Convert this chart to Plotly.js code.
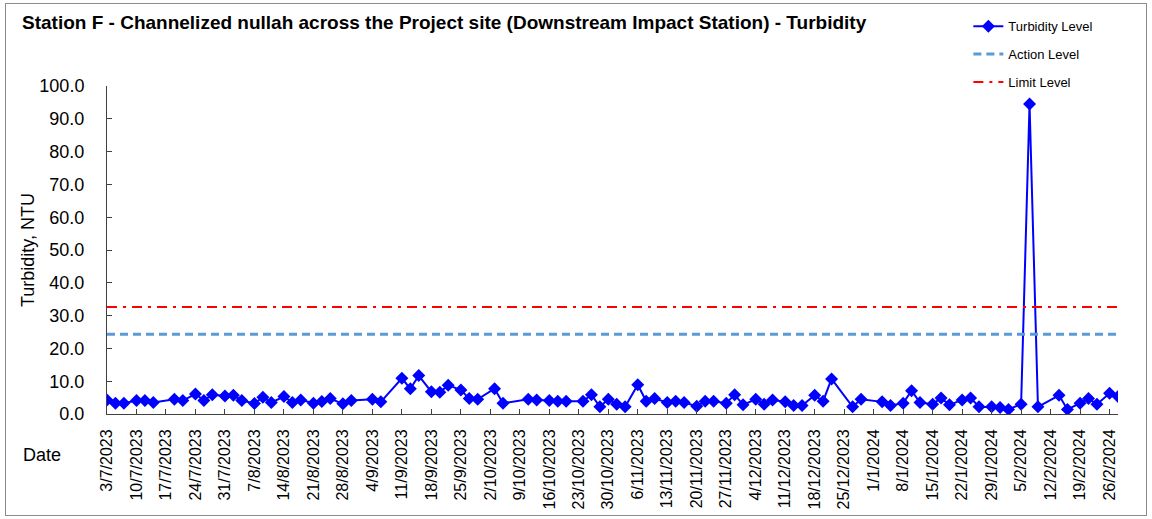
<!DOCTYPE html>
<html>
<head>
<meta charset="utf-8">
<script src="https://cdn.plot.ly/plotly-3.0.1.min.js"></script>
<style>
  html, body { margin: 0; padding: 0; background: #ffffff; }
  #wrap { position: relative; width: 1152px; height: 519px; }
  #chart { width: 1152px; height: 519px; }
  #frame { position: absolute; left: 5px; top: 3px; width: 1140px; height: 511px;
           border: 1px solid #8c8c8c; pointer-events: none; }
</style>
</head>
<body>
<div id="wrap">
  <div id="chart"></div>
  <div id="frame"></div>
</div>
<script>
const chartTitle = "Station F - Channelized nullah across the Project site (Downstream Impact Station) - Turbidity";
const yTitle = "Turbidity, NTU";
const xTitle = "Date";
const seriesNames = ["Turbidity Level", "Action Level", "Limit Level"];

const dates = [
  "2023-07-03","2023-07-05","2023-07-07","2023-07-10","2023-07-12","2023-07-14",
  "2023-07-19","2023-07-21","2023-07-24","2023-07-26","2023-07-28","2023-07-31",
  "2023-08-02","2023-08-04","2023-08-07","2023-08-09","2023-08-11","2023-08-14",
  "2023-08-16","2023-08-18","2023-08-21","2023-08-23","2023-08-25","2023-08-28",
  "2023-08-30","2023-09-04","2023-09-06","2023-09-11","2023-09-13","2023-09-15",
  "2023-09-18","2023-09-20","2023-09-22","2023-09-25","2023-09-27","2023-09-29",
  "2023-10-03","2023-10-05","2023-10-11","2023-10-13","2023-10-16","2023-10-18",
  "2023-10-20","2023-10-24","2023-10-26","2023-10-28","2023-10-30","2023-11-01",
  "2023-11-03","2023-11-06","2023-11-08","2023-11-10","2023-11-13","2023-11-15",
  "2023-11-17","2023-11-20","2023-11-22","2023-11-24","2023-11-27","2023-11-29",
  "2023-12-01","2023-12-04","2023-12-06","2023-12-08","2023-12-11","2023-12-13",
  "2023-12-15","2023-12-18","2023-12-20","2023-12-22","2023-12-27","2023-12-29",
  "2024-01-03","2024-01-05","2024-01-08","2024-01-10","2024-01-12","2024-01-15",
  "2024-01-17","2024-01-19","2024-01-22","2024-01-24","2024-01-26","2024-01-29",
  "2024-01-31","2024-02-02","2024-02-05","2024-02-07","2024-02-09","2024-02-14",
  "2024-02-16","2024-02-19","2024-02-21","2024-02-23","2024-02-26","2024-02-28"
];

const turbidity = [
  4.3, 3.3, 3.3, 4.1, 4.1, 3.5,
  4.5, 4.1, 6.1, 4.1, 5.9, 5.5,
  5.7, 4.1, 3.2, 5.1, 3.5, 5.3,
  3.5, 4.3, 3.3, 3.8, 4.7, 3.1,
  4.1, 4.5, 3.7, 10.9, 7.7, 11.7,
  6.8, 6.6, 8.8, 7.3, 4.7, 4.5,
  7.7, 3.3, 4.5, 4.3, 4.1, 3.9,
  3.9, 3.9, 5.9, 2.2, 4.5, 3.0,
  2.2, 8.9, 3.9, 4.7, 3.5, 3.9,
  3.5, 2.4, 3.9, 3.9, 3.3, 5.9,
  2.8, 4.5, 3.0, 4.3, 3.7, 2.6,
  2.6, 5.7, 3.9, 10.7, 2.2, 4.5,
  3.7, 2.6, 3.3, 7.1, 3.5, 3.0,
  4.9, 2.8, 4.3, 4.9, 2.2, 2.2,
  2.0, 1.4, 3.0, 94.5, 2.2, 5.7,
  1.4, 3.3, 4.7, 3.0, 6.3, 5.3
];

const actionLevel = 24.3;
const limitLevel = 32.6;

const yRange = [0, 100];
const xRange = ["2023-07-03", "2024-02-28"];

const levelDates = [dates[0], dates[dates.length - 1]];

const traces = [
  {
    x: dates, y: turbidity, name: seriesNames[0], type: "scatter", mode: "lines+markers",
    legendgroup: "a",
    line: { color: "#0000FF", width: 2 },
    marker: { symbol: "diamond", size: 10, color: "#0000FF" }
  },
  {
    x: levelDates, y: levelDates.map(() => actionLevel), name: seriesNames[1],
    type: "scatter", mode: "lines", legendgroup: "b",
    line: { color: "#5B9BD5", width: 3, dash: "8px,5px" }
  },
  {
    x: levelDates, y: levelDates.map(() => limitLevel), name: seriesNames[2],
    type: "scatter", mode: "lines", legendgroup: "c",
    line: { color: "#FF0000", width: 2, dash: "10px,6px,3px,6px" }
  }
];

const FONT = "Liberation Sans, Arial, sans-serif";

const layout = {
  width: 1152, height: 519,
  paper_bgcolor: "#ffffff", plot_bgcolor: "#ffffff",
  margin: { l: 107, r: 34, t: 86, b: 105, autoexpand: false },
  font: { family: FONT, color: "#000000" },
  title: {
    text: "<b>" + chartTitle + "</b>",
    x: 22 / 1152, xanchor: "left", xref: "container",
    y: 1 - 22 / 519, yanchor: "middle", yref: "container",
    font: { family: FONT, size: 19, color: "#000000" }
  },
  showlegend: true,
  legend: {
    x: 0.852, xanchor: "left", y: 1.228, yanchor: "top",
    font: { family: FONT, size: 13, color: "#000000" },
    tracegroupgap: 8, traceorder: "grouped",
    bgcolor: "rgba(0,0,0,0)"
  },
  xaxis: {
    type: "date", range: xRange, autorange: false,
    tick0: "2023-07-03", dtick: 7 * 24 * 3600 * 1000,
    tickformat: "%-d/%-m/%Y", tickangle: -90,
    ticks: "inside", ticklen: 5, tickcolor: "#404040",
    showline: true, linecolor: "#404040", linewidth: 1,
    showgrid: false, zeroline: false,
    ticklabelstandoff: 8,
    tickfont: { family: FONT, size: 16, color: "#000000" }
  },
  yaxis: {
    range: yRange, autorange: false,
    dtick: 10, tickformat: ".1f",
    ticks: "inside", ticklen: 5, tickcolor: "#404040",
    showline: true, linecolor: "#404040", linewidth: 1,
    showgrid: false, zeroline: false,
    ticklabelstandoff: 18,
    tickfont: { family: FONT, size: 18, color: "#000000" },
    title: { text: yTitle, standoff: 0, font: { family: FONT, size: 18, color: "#000000" } }
  },
  annotations: [
    {
      text: xTitle, xref: "paper", yref: "paper",
      x: (42 - 107) / 1011, y: -(455 - 414) / 328,
      xanchor: "center", yanchor: "middle", showarrow: false,
      font: { family: FONT, size: 18, color: "#000000" }
    }
  ]
};

Plotly.newPlot("chart", traces, layout, { displayModeBar: false, staticPlot: true });
</script>
</body>
</html>
